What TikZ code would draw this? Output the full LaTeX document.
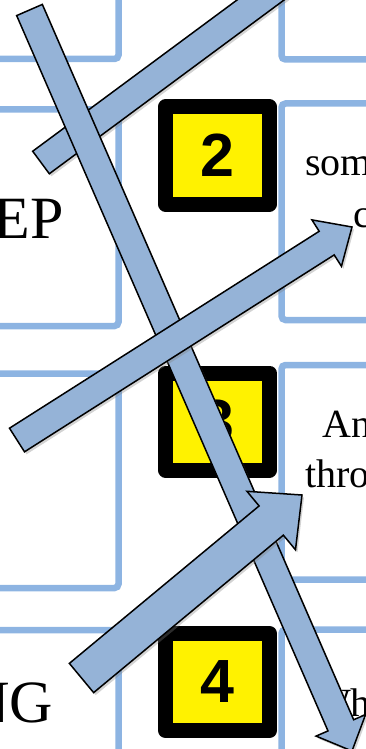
\documentclass[tikz,border=0pt]{standalone}
\usepackage{fontspec}
\setmainfont{Liberation Serif}
\newfontfamily\numfont{Liberation Sans}
\usepackage{tikz}
\usetikzlibrary{calc}
\usetikzlibrary{shadows}
\definecolor{panelblue}{RGB}{141,180,226}
\definecolor{arrowblue}{RGB}{149,179,215}
\tikzset{%
  panel/.style={
    draw=panelblue,
    line width=6.5pt,
    rounded corners=4pt
  },
  numbox/.style={
    draw=black,
    fill=yellow,
    line width=15pt,
    line join=round,
    minimum width=104pt,
    minimum height=97pt,
    inner sep=0pt,
    font=\numfont\bfseries\fontsize{61}{61}\selectfont
  },
  bigword/.style={
    inner sep=0pt,
    anchor=base east,
    font=\fontsize{60}{60}\selectfont
  },
  smallword/.style={
    inner sep=0pt,
    anchor=base west,
    font=\fontsize{40}{48}\selectfont
  },
  fatarrow/.style={
    draw=black,
    fill=arrowblue,
    line width=1.5pt,
    drop shadow={shadow xshift=2pt, shadow yshift=-2.5pt, opacity=.35}
  },
}
% tail, tip, shaft half width, head half width, head length
\newcommand{\blockarrow}[5]{%
  \coordinate (#1_base) at ($(#2)!#5!(#1)$);
  \draw[fatarrow] ($(#1)!#3!90:(#2)$) -- ($(#1_base)!#3!90:(#2)$)
    -- ($(#1_base)!#4!90:(#2)$) -- (#2) -- ($(#1_base)!#4!-90:(#2)$)
    -- ($(#1_base)!#3!-90:(#2)$) -- ($(#1)!#3!-90:(#2)$) -- cycle;
}

\begin{document}
\begin{tikzpicture}[x=1pt, y=-1pt]
\path[use as bounding box, clip] (0,0) rectangle (366,749);

    \foreach \top/\bot in {-100/59,109.5/326,373.5/588,630/900}
        \draw[panel] (-100,\top) rectangle (118.5,\bot);
    \foreach \top/\bot in {-100/59.5,103.5/320,365/579.5,629.5/900}
        \draw[panel] (281.5,\top) rectangle (500,\bot);

    \node[bigword] (word_ep) at (64,238) {EP};
    \node[bigword] (word_ng) at (53,722) {NG};
    \node[smallword] (word_som) at (305,175) {som};
    \node[smallword] (word_c) at (353,227) {c};
    \node[smallword] (word_an) at (322,437) {An};
    \node[smallword] (word_thro) at (305,487) {thro};
    \node[smallword] (word_wh) at (313,716) {Wh};

    \foreach \n/\y in {2/155.5,3/421.5,4/682}
        \node[numbox] (num_\n) at (217.5,\y) {\n};

    \coordinate (upper_tail) at (41,162.5);
    \coordinate (upper_tip) at (370,-81);
    \coordinate (long_tail) at (29.5,10);
    \coordinate (long_tip) at (352,751);
    \coordinate (mid_tail) at (17,440);
    \coordinate (mid_tip) at (352,227);
    \coordinate (low_tail) at (81.5,678);
    \coordinate (low_tip) at (302,495);

    \blockarrow{upper_tail}{upper_tip}{14pt}{27pt}{28pt}
    \blockarrow{long_tail}{long_tip}{14pt}{27pt}{28pt}
    \blockarrow{mid_tail}{mid_tip}{14pt}{27.5pt}{30pt}
    \blockarrow{low_tail}{low_tip}{19pt}{38pt}{40pt}
\end{tikzpicture}
\end{document}
